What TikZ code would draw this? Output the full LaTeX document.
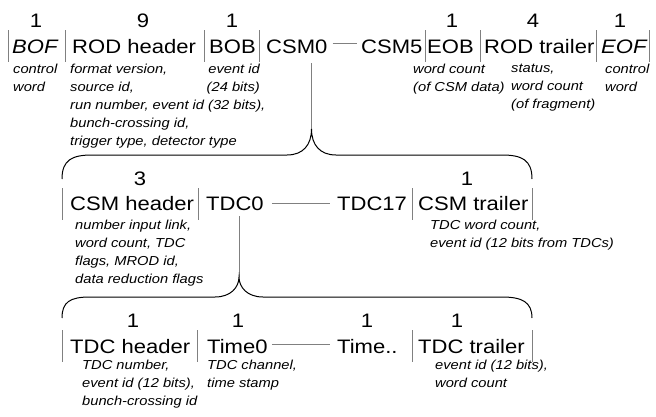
\documentclass[tikz,border=0pt]{standalone}
\usepackage{fontspec}
\setmainfont[FakeStretch=1.13]{Liberation Sans}
\usetikzlibrary{positioning}

\begin{document}
\begin{tikzpicture}[x=1pt,y=-1pt]
\tikzstyle{field}=[inner sep=0pt,anchor=base west,font=\fontsize{19.5}{22}\selectfont]
\tikzstyle{wordnum}=[inner sep=0pt,anchor=base,font=\fontsize{19.5}{22}\selectfont]
\tikzstyle{desc}=[inner sep=0pt,anchor=north west,align=left,font=\fontsize{13}{18}\selectfont\itshape]
\tikzstyle{divider}=[draw=gray,line width=0.8pt]
\tikzstyle{conn}=[draw=gray,line width=0.8pt]
\tikzstyle{curly}=[draw=black,line width=1pt]
\useasboundingbox (0,0) rectangle (656,416);

\node[field] (bof) at (12,53) {\itshape BOF};
\node[field] (rodhdr) at (72,53) {ROD header};
\node[field] (bob) at (209,53) {BOB};
\node[field] (csm0) at (266,53) {CSM0};
\node[field] (csm5) at (361,53) {CSM5};
\node[field] (eob) at (427,53) {EOB};
\node[field] (rodtrl) at (484,53) {ROD trailer};
\node[field] (eof) at (601,53) {\itshape EOF};

\node[wordnum] (nbof) at (36,27) {1};
\node[wordnum] (nrodhdr) at (143,27) {9};
\node[wordnum] (nbob) at (232,27) {1};
\node[wordnum] (neob) at (452,27) {1};
\node[wordnum] (nrodtrl) at (533,27) {4};
\node[wordnum] (neof) at (620,27) {1};

\foreach \x in {8,65,204,259,425,480,596,649}
  \draw[divider] (\x,30) -- (\x,62);

\node[desc] (bofinfo) at (13,64) {control\\word};
\node[desc] (rodhdrinfo) at (70,64) {format version,\\source id,\\run number, event id (32 bits),\\bunch-crossing id,\\trigger type, detector type};
\node[desc, anchor=north east, align=right] (bobinfo) at (260,64) {event id\\(24 bits)};
\node[desc] (eobinfo) at (413,64) {word count\\(of CSM data)};
\node[desc] (rodtrlinfo) at (511,64) {status,\\word count\\(of fragment)};
\node[desc] (eofinfo) at (605,64) {control\\word};

\draw[conn] ([xshift=5pt,yshift=3pt]csm0.east) -- ([xshift=-4pt,yshift=3pt]csm5.west);

\coordinate (tip1) at (311.5,129);
\draw[conn] (tip1 |- csm0.south) ++(0,10) -- (tip1);
\draw[curly] (62,179) .. controls (62,160) and (72,155) .. (92,155) -- (287,155)
  .. controls (303,155) and (311.5,145) .. (tip1)
  .. controls (311.5,145) and (320,155) .. (336,155) -- (502,155)
  .. controls (522,155) and (532,160) .. (532,179);

\node[field] (csmhdr) at (70,210) {CSM header};
\node[field] (tdc0) at (206,210) {TDC0};
\node[field] (tdc17) at (337,210) {TDC17};
\node[field] (csmtrl) at (418,210) {CSM trailer};

\node[wordnum] (ncsmhdr) at (140,185) {3};
\node[wordnum] (ncsmtrl) at (467,185) {1};

\foreach \x in {62,198,412,532}
  \draw[divider] (\x,188) -- (\x,220);

\node[desc] (csmhdrinfo) at (75,220) {number input link,\\word count, TDC\\flags, MROD id,\\data reduction flags};
\node[desc] (csmtrlinfo) at (430,220) {TDC word count,\\event id (12 bits from TDCs)};

\draw[conn] ([xshift=8pt]tdc0.east) -- ([xshift=-7pt]tdc17.west);

\coordinate (tip2) at (239,277);
\draw[conn] (tip2 |- tdc0.south) ++(0,6) -- (tip2);
\draw[curly] (62,318) .. controls (62,302) and (70,297) .. (90,297) -- (215,297)
  .. controls (231,297) and (239,287) .. (tip2)
  .. controls (239,287) and (247,297) .. (263,297) -- (502,297)
  .. controls (522,297) and (532,302) .. (532,318);

\node[field] (tdchdr) at (70,353) {TDC header};
\node[field] (time0) at (207,353) {Time0};
\node[field] (timen) at (337,353) {Time..};
\node[field] (tdctrl) at (418,353) {TDC trailer};

\node[wordnum] (ntdchdr) at (133,327) {1};
\node[wordnum] (ntime0) at (238,327) {1};
\node[wordnum] (ntimen) at (367,327) {1};
\node[wordnum] (ntdctrl) at (457,327) {1};

\foreach \x in {62,197,412,532}
  \draw[divider] (\x,330) -- (\x,362);

\node[desc] (tdchdrinfo) at (82,360) {TDC number,\\event id (12 bits),\\bunch-crossing id};
\node[desc] (time0info) at (207,360) {TDC channel,\\time stamp};
\node[desc] (tdctrlinfo) at (435,360) {event id (12 bits),\\word count};

\draw[conn] ([xshift=4pt,yshift=2pt]time0.east) -- ([xshift=-7pt,yshift=2pt]timen.west);

\end{tikzpicture}
\end{document}
